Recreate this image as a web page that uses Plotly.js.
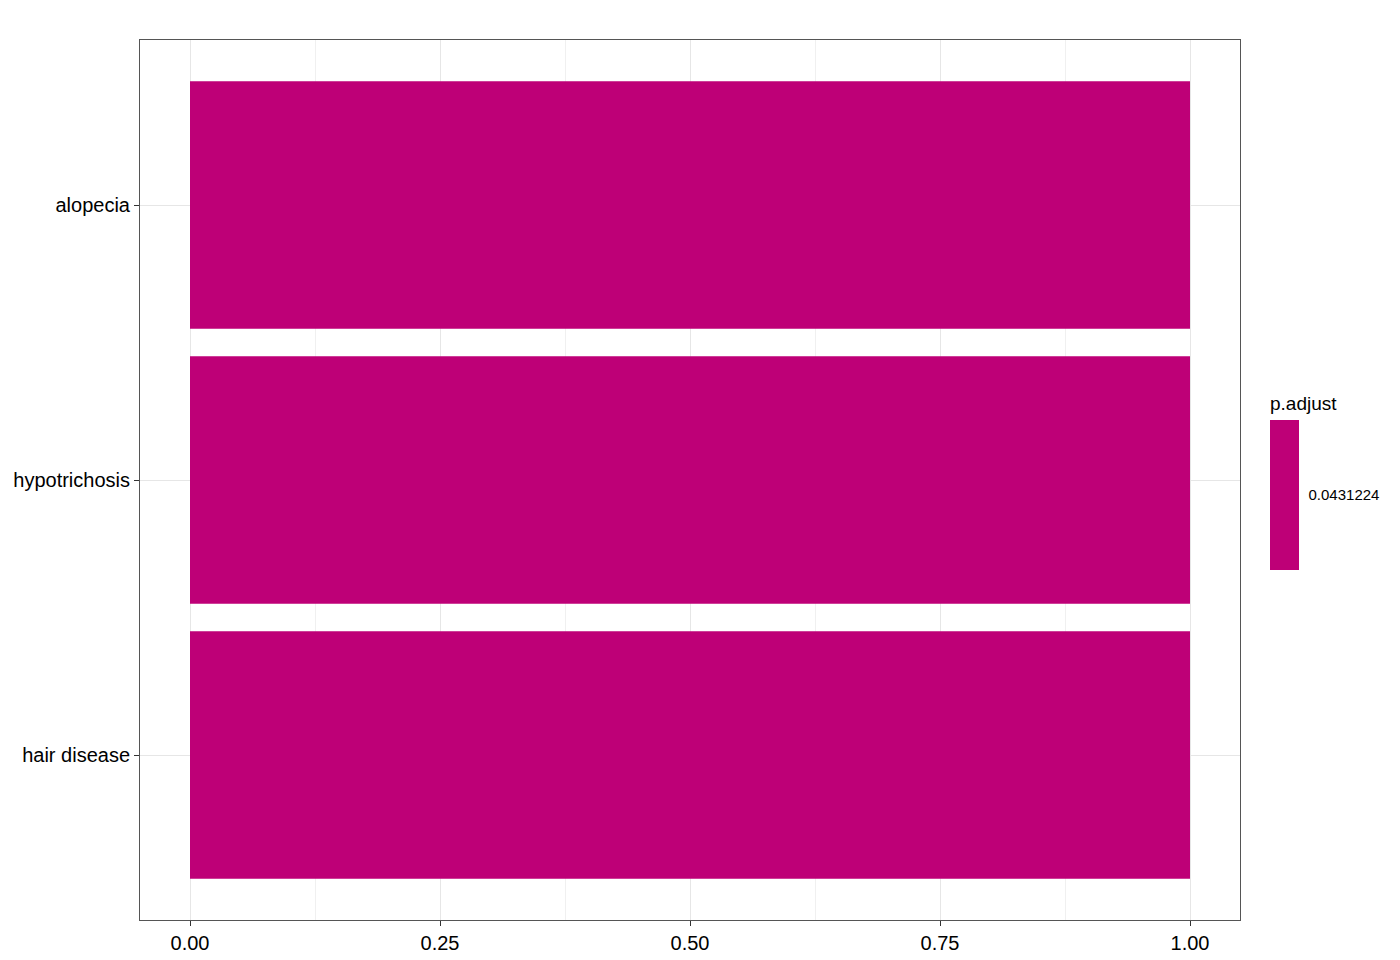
<!DOCTYPE html>
<html>
<head>
<meta charset="utf-8">
<script src="https://cdn.plot.ly/plotly-3.0.1.min.js"></script>
<style>html,body{margin:0;padding:0;background:#fff;}#chart{width:1400px;height:960px;}</style>
</head>
<body>
<div id="chart"></div>
<script>
// Data (bottom to top as drawn)
const categories = ["hair disease", "hypotrichosis", "alopecia"];
const geneRatio = [1.0, 1.0, 1.0];
const pAdjust = [0.0431224, 0.0431224, 0.0431224];
const xTickVals = [0, 0.25, 0.5, 0.75, 1.0];
const xTickText = ["0.00", "0.25", "0.50", "0.75", "1.00"];
const legendTitle = "p.adjust";
const barColor = "#be0077";

const FONT = "Liberation Sans, Arial, sans-serif";
const px = v => (v - 140) / 1100;     // pixel -> paper x
const py = v => (920 - v) / 880;      // pixel -> paper y

const pv = pAdjust[0];
const trace = {
  type: "bar",
  orientation: "h",
  y: categories,
  x: geneRatio,
  width: 0.9,
  hoverinfo: "x+y",
  marker: {
    color: pAdjust,
    colorscale: [[0, barColor], [1, barColor]],
    cmin: pv - 0.001,
    cmax: pv + 0.001,
    showscale: true,
    line: {width: 0},
    colorbar: {
      xref: "paper", x: px(1270), xanchor: "left", xpad: 0,
      yref: "paper", y: py(495), yanchor: "middle", ypad: 0,
      len: 150, lenmode: "pixels",
      thickness: 29, thicknessmode: "pixels",
      outlinewidth: 0,
      tickvals: [pv], ticktext: [String(pv)],
      ticks: "outside", ticklen: 7, tickcolor: "rgba(0,0,0,0)", tickwidth: 1,
      tickfont: {family: FONT, size: 15, color: "#000"}
    }
  }
};

const layout = {
  width: 1400, height: 960,
  margin: {l: 140, r: 160, t: 40, b: 40},
  paper_bgcolor: "#fff", plot_bgcolor: "#fff",
  font: {family: FONT, color: "#000"},
  showlegend: false,
  xaxis: {
    range: [-0.05, 1.05],
    tickvals: xTickVals, ticktext: xTickText,
    tickfont: {size: 20, color: "#000"},
    ticks: "outside", ticklen: 5, tickcolor: "#333", tickwidth: 1,
    showgrid: true, gridcolor: "#e6e6e6", gridwidth: 1.1,
    minor: {tickvals: [0.125, 0.375, 0.625, 0.875], showgrid: true, gridcolor: "#f0f0f0", gridwidth: 0.7, ticks: ""},
    zeroline: false,
    showline: true, linecolor: "#555", linewidth: 1, mirror: true,
    fixedrange: true
  },
  yaxis: {
    type: "category",
    categoryorder: "array", categoryarray: categories,
    range: [-0.6, 2.6],
    tickfont: {size: 20, color: "#000"},
    ticks: "outside", ticklen: 5, tickcolor: "#333", tickwidth: 1,
    showgrid: true, gridcolor: "#e6e6e6", gridwidth: 1.1,
    zeroline: false,
    showline: true, linecolor: "#555", linewidth: 1, mirror: true,
    fixedrange: true
  },
  annotations: [{
    xref: "paper", yref: "paper", x: px(1269), y: py(403),
    xanchor: "left", yanchor: "middle", showarrow: false, xshift: -1,
    text: legendTitle, font: {family: FONT, size: 19, color: "#000"}
  }],
  shapes: [
    {type: "line", xref: "paper", yref: "paper", x0: px(1270), x1: px(1276), y0: py(495), y1: py(495),
     line: {color: "rgba(255,255,255,0.5)", width: 1}},
    {type: "line", xref: "paper", yref: "paper", x0: px(1293), x1: px(1299), y0: py(495), y1: py(495),
     line: {color: "rgba(255,255,255,0.5)", width: 1}}
  ]
};

Plotly.newPlot("chart", [trace], layout, {displayModeBar: false});
</script>
</body>
</html>
